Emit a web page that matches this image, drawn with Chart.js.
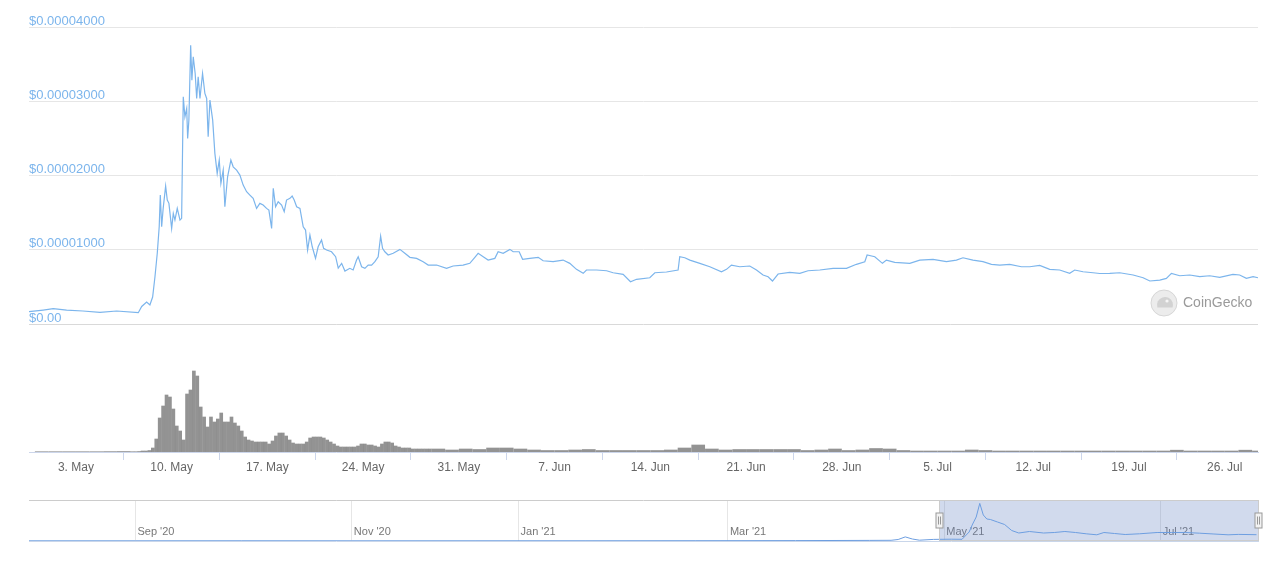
<!DOCTYPE html>
<html>
<head>
<meta charset="utf-8">
<script src="https://cdn.jsdelivr.net/npm/chart.js@4.4.0/dist/chart.umd.min.js"></script>
<style>
  html, body { margin: 0; padding: 0; background: #fff; }
  body { width: 1280px; height: 561px; position: relative; overflow: hidden; }
  canvas { position: absolute; left: 0; }
  #priceChart { top: 0; }
  #volumeChart { top: 324px; }
  #navChart { top: 490px; }
</style>
</head>
<body>
<canvas id="priceChart" width="1280" height="330"></canvas>
<canvas id="volumeChart" width="1280" height="166"></canvas>
<canvas id="navChart" width="1280" height="71"></canvas>
<script>
// x values of the main chart are days since 1 May 2021 00:00 UTC
const DAY0 = Date.UTC(2021, 4, 1);
const MONTHS = ['Jan', 'Feb', 'Mar', 'Apr', 'May', 'Jun', 'Jul', 'Aug', 'Sep', 'Oct', 'Nov', 'Dec'];
const viewStart = -1.43;
const viewEnd = 88.43;

// price, in units of 0.00000001 USD
const priceDays = [-1.43,-0.39,0.34,1.32,2.51,3.76,4.98,6.56,6.81,7.17,7.41,7.61,7.78,7.95,8.09,8.17,8.27,8.38,8.56,8.68,
  8.80,9.00,9.12,9.24,9.41,9.61,9.73,9.85,9.97,10.10,10.17,10.26,10.39,10.48,10.58,10.72,10.83,10.94,11.07,11.26,
  11.43,11.56,11.67,11.80,12.00,12.16,12.33,12.48,12.60,12.77,12.89,13.09,13.33,13.50,13.75,13.99,14.23,14.48,14.72,14.96,
  15.21,15.45,15.69,15.94,16.11,16.31,16.43,16.60,16.79,17.04,17.23,17.40,17.65,17.81,17.96,18.14,18.38,18.62,18.79,18.94,
  19.11,19.28,19.52,19.71,19.96,20.11,20.33,20.69,20.99,21.18,21.43,21.67,22.03,22.27,22.52,22.64,22.89,23.13,23.37,23.62,
  23.86,24.10,24.28,24.42,24.59,24.83,25.20,25.69,26.05,26.42,26.91,27.39,27.76,28.37,29.10,29.58,30.31,30.80,31.17,31.41,
  31.78,32.14,32.63,32.87,33.24,33.73,33.97,34.41,34.66,35.19,35.80,36.16,36.89,37.62,38.11,38.60,39.09,39.33,40.07,40.80,
  41.28,42.01,42.55,42.99,43.96,44.33,45.18,46.03,46.15,46.52,46.89,47.62,48.35,49.20,49.57,49.93,50.54,51.27,51.76,52.24,
  52.61,52.93,53.34,54.19,54.93,55.53,56.39,57.36,58.34,59.07,59.68,59.85,60.41,60.97,61.26,61.87,62.97,63.70,64.67,65.65,
  66.38,66.86,67.59,68.32,68.94,69.55,70.28,71.13,71.74,72.47,73.20,73.93,74.66,75.03,75.64,76.37,76.86,77.59,78.32,79.30,
  80.03,80.52,81.25,81.73,82.10,82.71,83.44,84.17,84.90,85.63,86.60,87.09,87.58,88.07,88.43];
const priceVals = [166,188,206,188,175,157,175,152,236,296,256,363,637,956,1310,1736,1310,1557,1857,1669,
  1625,1288,1490,1400,1557,1400,1423,3059,2790,2903,2500,2746,3755,3284,3598,3374,3038,3329,3038,3374,
  3105,3038,2521,3015,2746,2298,2028,2207,1894,2073,1579,1983,2207,2117,2073,2006,1871,1781,1736,1692,
  1557,1625,1602,1557,1534,1288,1827,1579,1646,1602,1512,1669,1692,1723,1669,1579,1557,1310,1265,996,
  1198,1040,884,1040,1131,1019,996,973,906,754,817,713,750,727,861,906,771,750,794,794,
  839,906,1184,1019,973,929,952,1005,952,898,884,839,794,794,750,781,794,817,898,952,
  906,861,884,973,952,1005,973,973,871,884,898,852,839,861,817,736,682,727,727,717,
  690,669,569,602,623,690,700,727,906,892,861,817,771,704,736,794,771,781,727,660,
  637,579,673,696,682,717,727,750,750,804,839,929,906,817,861,830,817,861,871,839,
  861,892,861,839,804,794,804,771,771,790,736,727,682,727,704,690,680,682,690,660,
  623,579,592,615,682,650,660,637,650,629,669,660,615,637,623];
const priceTicks = [0, 1000, 2000, 3000, 4000];

// volume (relative units): daily before the pump, 6-hourly during it, daily after
const volEarlyStart = -1;
const volEarly = [0.3, 0.3, 0.3, 0.3, 0.3, 0.4, 0.5];
const vol6hStart = 6;
const vol6h = [
  0.3, 0.3, 0.5, 1,     // 7 May
  1, 1.5, 4, 13,        // 8 May
  34, 46, 57, 55,
  43, 26, 21, 12,
  58, 62, 81, 76,
  45, 35, 25, 35,
  30, 33, 39, 30,
  30, 35, 29, 26,
  21, 15, 12, 11,
  10, 10, 10, 10,
  8, 11, 16, 19,
  19, 16, 12, 9,
  8, 8, 8, 10,
  14, 15, 15, 15,
  14, 12, 10, 8,
  6, 5, 5, 5,
  5, 5, 6, 8,
  8, 7, 7, 6,
  5, 8, 10, 10,
  9, 6, 5, 4,
  4, 4, 3, 3,
  3, 3, 3, 3
];
const volLateStart = 28;
const volLate = [3, 2, 3, 2.5, 4, 4, 3, 2, 1.5, 1.5, 2, 2.5, 1.5, 1.5, 1.5, 1.5, 1.5, 2, 4, 7,
  3, 2, 2.5, 2.5, 2.5, 2.5, 2.5, 1.5, 2, 3, 1.5, 2, 3.5, 3, 1.5, 1, 1, 1, 1, 2,
  1.5, 1, 1, 1, 1, 1, 1, 1, 1, 1, 1, 1, 1, 1, 1.8, 1, 1, 1, 1, 1.8, 1];

// x-axis tick days (Mondays)
const weekTickDays = [2, 9, 16, 23, 30, 37, 44, 51, 58, 65, 72, 79, 86];

// navigator: long history
const navDates = ['2020-08-02', '2020-09-01', '2020-10-01', '2020-11-01', '2020-12-20', '2021-01-20', '2021-02-20',
  '2021-03-20', '2021-04-10', '2021-04-16', '2021-04-18', '2021-04-20', '2021-04-22', '2021-04-24', '2021-04-28',
  '2021-05-03', '2021-05-06', '2021-05-08', '2021-05-09', '2021-05-10', '2021-05-11', '2021-05-12', '2021-05-13',
  '2021-05-14', '2021-05-16', '2021-05-18', '2021-05-20', '2021-05-22', '2021-05-25', '2021-05-29', '2021-06-01',
  '2021-06-04', '2021-06-07', '2021-06-10', '2021-06-13', '2021-06-15', '2021-06-18', '2021-06-21', '2021-06-25',
  '2021-06-30', '2021-07-04', '2021-07-08', '2021-07-12', '2021-07-16', '2021-07-20', '2021-07-23', '2021-07-28'];
const navVals = [20, 20, 25, 20, 22, 25, 30,
  40, 60, 70, 150, 410, 200, 80, 160,
  180, 170, 900, 1700, 2400, 3760, 2600, 2200,
  2150, 1900, 1650, 1050, 800, 950, 800, 850,
  950, 850, 720, 620, 850, 750, 650, 720,
  850, 850, 850, 780, 700, 620, 660, 630];
const navTickDates = ['2020-09-01', '2020-11-01', '2021-01-01', '2021-03-01', '2021-05-01', '2021-07-01'];
const navTickLabels = ["Sep '20", "Nov '20", "Jan '21", "Mar '21", "May '21", "Jul '21"];
const navStart = '2020-08-02';
const navGap = ['2020-12-01', '2020-12-15'];   // missing days in the history

function dayMs(s) { return Date.parse(s + 'T00:00:00Z'); }
function ordinalDay(s) {
  let d = (dayMs(s) - dayMs(navStart)) / 864e5;
  const g0 = dayMs(navGap[0]), g1 = dayMs(navGap[1]);
  const t = dayMs(s);
  if (t >= g1) d -= (g1 - g0) / 864e5;
  else if (t > g0) d -= (t - g0) / 864e5;
  return d;
}
function fmtDay(v) {
  const dt = new Date(DAY0 + v * 864e5);
  return dt.getUTCDate() + '. ' + MONTHS[dt.getUTCMonth()];
}

Chart.defaults.font.family = "'Liberation Sans', Arial, sans-serif";
Chart.defaults.animation = false;
Chart.defaults.plugins.legend.display = false;
Chart.defaults.plugins.tooltip.enabled = false;

const watermark = {
  id: 'watermark',
  afterDraw(chart) {
    const { ctx, chartArea: a } = chart;
    const cx = a.right - 94, cy = a.bottom - 21;
    ctx.save();
    ctx.beginPath();
    ctx.arc(cx, cy, 13, 0, Math.PI * 2);
    ctx.fillStyle = '#ececec';
    ctx.fill();
    ctx.strokeStyle = '#d6d6d6';
    ctx.lineWidth = 1;
    ctx.stroke();
    ctx.beginPath();
    ctx.arc(cx + 1, cy + 2, 8, Math.PI * 0.9, Math.PI * 2.1);
    ctx.fillStyle = '#d2d2d2';
    ctx.fill();
    ctx.beginPath();
    ctx.arc(cx + 3, cy - 2, 1.6, 0, Math.PI * 2);
    ctx.fillStyle = '#f6f6f6';
    ctx.fill();
    ctx.fillStyle = '#9a9a9a';
    ctx.font = "14px 'Liberation Sans', Arial, sans-serif";
    ctx.textBaseline = 'middle';
    ctx.textAlign = 'left';
    ctx.fillText('CoinGecko', cx + 19, cy);
    ctx.restore();
  }
};

new Chart(document.getElementById('priceChart'), {
  type: 'line',
  data: {
    datasets: [{
      data: priceDays.map((d, i) => ({ x: d, y: priceVals[i] })),
      borderColor: '#7cb5ec',
      borderWidth: 1.2,
      pointRadius: 0,
      tension: 0,
      fill: false
    }]
  },
  options: {
    responsive: false,
    events: [],
    layout: { padding: { left: 29, right: 22, top: 27, bottom: 6 } },
    scales: {
      x: { type: 'linear', min: viewStart, max: viewEnd, display: false },
      y: {
        min: 0, max: 4000,
        afterFit: s => { s.width = 0; s.paddingTop = 0; s.paddingBottom = 0; },
        afterBuildTicks: s => { s.ticks = priceTicks.map(v => ({ value: v })); },
        border: { display: false },
        grid: { color: c => (c.tick && c.tick.value === 0 ? '#d9d9d9' : '#e6e6e6'), drawTicks: false },
        ticks: {
          mirror: true, padding: 0, labelOffset: -6, color: '#7cb5ec',
          font: { size: 13 },
          callback: v => (v === 0 ? '$0.00' : '$' + (v * 1e-8).toFixed(8))
        }
      }
    }
  },
  plugins: [watermark]
});

const volColor = 'rgba(120,120,120,0.8)';
new Chart(document.getElementById('volumeChart'), {
  type: 'bar',
  data: {
    datasets: [
      { data: volEarly.map((v, i) => ({ x: volEarlyStart + i + 0.5, y: v })), backgroundColor: volColor, barThickness: 13, grouped: false },
      { data: vol6h.map((v, i) => ({ x: vol6hStart + i * 0.25 + 0.125, y: v })), backgroundColor: volColor, barThickness: 3, grouped: false },
      { data: volLate.map((v, i) => ({ x: volLateStart + i + 0.5, y: v })), backgroundColor: volColor, barThickness: 13, grouped: false }
    ]
  },
  options: {
    responsive: false,
    events: [],
    layout: { padding: { left: 29, right: 22, top: 0, bottom: 8 } },
    scales: {
      x: {
        type: 'linear', min: viewStart, max: viewEnd, offset: false,
        afterFit: s => { s.height = 30; },
        afterBuildTicks: s => { s.ticks = weekTickDays.map(v => ({ value: v })); },
        grid: { drawOnChartArea: false, drawTicks: true, tickLength: 8, color: '#ccd6eb' },
        border: { color: '#ccd6eb' },
        ticks: { padding: 0, color: '#666666', font: { size: 12 }, maxRotation: 0, autoSkip: false, callback: v => fmtDay(v) }
      },
      y: { display: false, min: 0, max: 128 }
    }
  }
});

const navMask = {
  id: 'navMask',
  beforeDatasetsDraw(chart) {
    const { ctx, chartArea: a, scales: { x } } = chart;
    const base = ordinalDay('2021-05-01');
    const x0 = x.getPixelForValue(base + viewStart), x1 = x.getPixelForValue(base + viewEnd);
    ctx.save();
    ctx.fillStyle = 'rgba(102,133,194,0.3)';
    ctx.fillRect(x0, a.top, x1 - x0, a.bottom - a.top);
    ctx.restore();
  },
  afterDraw(chart) {
    const { ctx, chartArea: a, scales: { x } } = chart;
    const base = ordinalDay('2021-05-01');
    const x0 = Math.round(x.getPixelForValue(base + viewStart)) + 0.5;
    const x1 = Math.round(x.getPixelForValue(base + viewEnd)) + 0.5;
    ctx.save();
    ctx.strokeStyle = '#cccccc';
    ctx.lineWidth = 1;
    ctx.beginPath();
    ctx.moveTo(a.left, a.top + 0.5);
    ctx.lineTo(a.right, a.top + 0.5);
    ctx.stroke();
    ctx.strokeRect(x0, a.top + 0.5, x1 - x0, a.bottom - a.top - 1);
    const my = (a.top + a.bottom) / 2;
    [x0, x1].forEach(hx => {
      ctx.fillStyle = '#f2f2f2';
      ctx.strokeStyle = '#999999';
      ctx.fillRect(hx - 3.5, my - 7.5, 7, 15);
      ctx.strokeRect(hx - 3.5, my - 7.5, 7, 15);
      ctx.beginPath();
      ctx.moveTo(hx - 1, my - 4); ctx.lineTo(hx - 1, my + 4);
      ctx.moveTo(hx + 1, my - 4); ctx.lineTo(hx + 1, my + 4);
      ctx.stroke();
    });
    ctx.restore();
  }
};

new Chart(document.getElementById('navChart'), {
  type: 'line',
  data: {
    datasets: [{
      data: navDates.map((s, i) => ({ x: ordinalDay(s), y: navVals[i] })),
      borderColor: '#6d9ee0',
      borderWidth: 1,
      pointRadius: 0,
      tension: 0,
      fill: false
    }]
  },
  options: {
    responsive: false,
    events: [],
    layout: { padding: { left: 29, right: 22, top: 10, bottom: 20 } },
    scales: {
      x: {
        type: 'linear', min: 0, max: ordinalDay('2021-05-01') + viewEnd,
        afterFit: s => { s.height = 0; },
        afterBuildTicks: s => { s.ticks = navTickDates.map(d => ({ value: ordinalDay(d) })); },
        grid: { color: '#e6e6e6', drawTicks: false },
        border: { color: '#c9d6ea' },
        ticks: {
          mirror: true, align: 'start', labelOffset: 2, padding: 2, color: '#777777',
          font: { size: 11 }, autoSkip: false, maxRotation: 0,
          callback: (v, i) => navTickLabels[i]
        }
      },
      y: { display: false, min: 0, max: 4100 }
    }
  },
  plugins: [navMask]
});
</script>
</body>
</html>
